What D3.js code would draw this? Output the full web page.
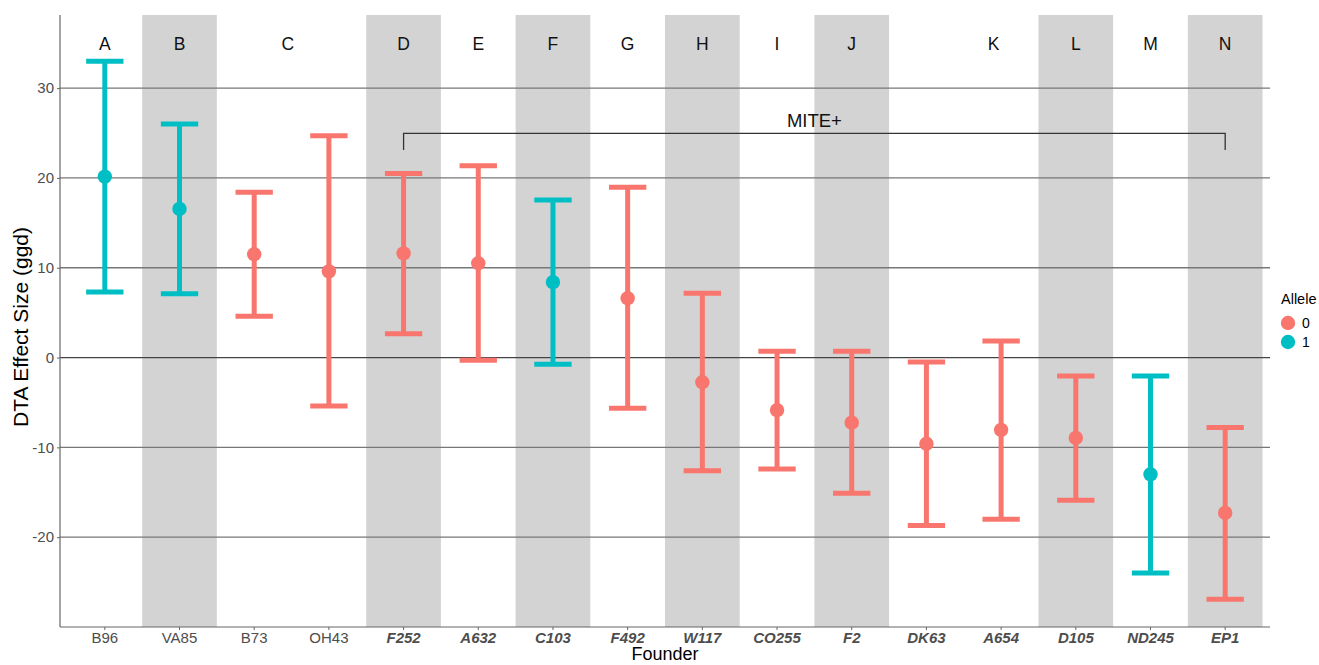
<!DOCTYPE html>
<html>
<head>
<meta charset="utf-8">
<script src="https://cdn.jsdelivr.net/npm/d3@7"></script>
<style>
  html, body { margin: 0; padding: 0; background: #fff; }
  svg { display: block; font-family: "Liberation Sans", Arial, Helvetica, sans-serif; }
</style>
</head>
<body>
<svg id="chart" width="1319" height="665"></svg>
<script>
// ---------------- data ----------------
const founders = ["B96","VA85","B73","OH43","F252","A632","C103","F492","W117","CO255","F2","DK63","A654","D105","ND245","EP1"];
const effect   = [20.15, 16.55, 11.5, 9.6, 11.6, 10.5, 8.4, 6.6, -2.75, -5.85, -7.25, -9.6, -8.05, -8.95, -13.0, -17.3];
const lower    = [7.3, 7.1, 4.6, -5.4, 2.65, -0.3, -0.75, -5.65, -12.6, -12.4, -15.1, -18.7, -18.0, -15.9, -24.0, -26.9];
const upper    = [33.0, 26.0, 18.4, 24.7, 20.5, 21.35, 17.55, 18.95, 7.15, 0.7, 0.7, -0.5, 1.85, -2.05, -2.05, -7.8];
const allele   = ["1","1","0","0","0","0","1","0","0","0","0","0","0","0","1","0"];
const miteFounders = ["F252","A632","C103","F492","W117","CO255","F2","DK63","A654","D105","ND245","EP1"];
const shadedFounders = ["VA85","F252","C103","W117","F2","D105","EP1"];
const groupLetters = ["A","B","C","D","E","F","G","H","I","J","K","L","M","N"];
const letterPos    = [1, 2, 3.45, 5, 6, 7, 8, 9, 10, 11, 12.9, 14, 15, 16];
const yTicks = [-20, -10, 0, 10, 20, 30];
const alleleLevels = ["0","1"];
const alleleColors = ["#F8766D","#00BFC4"];
const bracketLabel = "MITE+";

// ---------------- layout ----------------
const svg = d3.select("#chart");
const pLeft = 60, pRight = 1270, pTop = 15, pBottom = 627;

const x = d3.scaleBand().domain(founders).range([pLeft, pRight]).paddingInner(0).paddingOuter(0.1);
const xPos = d3.scaleLinear().domain([0.4, 16.6]).range([pLeft, pRight]);
const y = d3.scaleLinear().domain([-30.0, 38.14]).range([pBottom, pTop]);
const color = d3.scaleOrdinal().domain(alleleLevels).range(alleleColors);

const data = founders.map((f, i) => ({f, effect: effect[i], lo: lower[i], hi: upper[i], allele: allele[i]}));

// shaded bands
svg.append("g").selectAll("rect").data(shadedFounders).join("rect")
  .attr("x", d => x(d)).attr("width", x.bandwidth())
  .attr("y", pTop).attr("height", pBottom - pTop)
  .attr("fill", "#D3D3D3");

// horizontal gridlines
svg.append("g").selectAll("line").data(yTicks).join("line")
  .attr("x1", pLeft).attr("x2", pRight)
  .attr("y1", d => y(d)).attr("y2", d => y(d))
  .attr("stroke", d => d === 0 ? "#444" : "#777")
  .attr("stroke-width", 1.3);

// axes
const yAxis = svg.append("g").attr("transform", `translate(${pLeft},0)`)
  .call(d3.axisLeft(y).tickValues(yTicks).tickSize(3).tickPadding(3).tickFormat(d => String(d)));
yAxis.select(".domain").attr("stroke", "#666").attr("stroke-width", 1.2).attr("d", `M0,${pTop}V${pBottom}`);
yAxis.selectAll(".tick line").attr("stroke", "#666");
yAxis.selectAll(".tick text").attr("fill", "#4D4D4D").style("font-size", "15px");

const xAxis = svg.append("g").attr("transform", `translate(0,${pBottom})`)
  .call(d3.axisBottom(x).tickSize(3).tickPadding(2));
xAxis.select(".domain").attr("stroke", "#666").attr("stroke-width", 1.2).attr("d", `M${pLeft},0H${pRight}`);
xAxis.selectAll(".tick line").attr("stroke", "#666");
xAxis.selectAll(".tick text").attr("fill", "#4D4D4D").style("font-size", "15px")
  .style("font-style", d => miteFounders.includes(d) ? "italic" : "normal")
  .style("font-weight", d => miteFounders.includes(d) ? "bold" : "normal");

// axis titles
svg.append("text").attr("x", (pLeft + pRight) / 2).attr("y", 660)
  .attr("text-anchor", "middle").style("font-size", "18px").attr("fill", "#000").text("Founder");
svg.append("text").attr("transform", `translate(28,${(pTop + pBottom) / 2 + 6}) rotate(-90)`)
  .attr("text-anchor", "middle").style("font-size", "21px").attr("fill", "#000").text("DTA Effect Size (ggd)");

// error bars
const capHalf = x.bandwidth() * 0.25;
const eb = svg.append("g").selectAll("g").data(data).join("g")
  .attr("stroke", d => color(d.allele)).attr("stroke-width", 5);
eb.append("line")
  .attr("x1", d => x(d.f) + x.bandwidth() / 2).attr("x2", d => x(d.f) + x.bandwidth() / 2)
  .attr("y1", d => y(d.lo)).attr("y2", d => y(d.hi));
eb.append("line")
  .attr("x1", d => x(d.f) + x.bandwidth() / 2 - capHalf).attr("x2", d => x(d.f) + x.bandwidth() / 2 + capHalf)
  .attr("y1", d => y(d.hi)).attr("y2", d => y(d.hi));
eb.append("line")
  .attr("x1", d => x(d.f) + x.bandwidth() / 2 - capHalf).attr("x2", d => x(d.f) + x.bandwidth() / 2 + capHalf)
  .attr("y1", d => y(d.lo)).attr("y2", d => y(d.lo));

// points
svg.append("g").selectAll("circle").data(data).join("circle")
  .attr("cx", d => x(d.f) + x.bandwidth() / 2).attr("cy", d => y(d.effect))
  .attr("r", 7.2).attr("fill", d => color(d.allele));

// group letters
svg.append("g").selectAll("text").data(groupLetters).join("text")
  .attr("x", (d, i) => xPos(letterPos[i])).attr("y", 50)
  .attr("text-anchor", "middle").style("font-size", "17.5px").attr("fill", "#111").text(d => d);

// MITE+ bracket
const bx1 = x(miteFounders[0]) + x.bandwidth() / 2;
const bx2 = x(miteFounders[miteFounders.length - 1]) + x.bandwidth() / 2;
svg.append("path")
  .attr("d", `M${bx1},150V133.3H${bx2}V150`)
  .attr("fill", "none").attr("stroke", "#333").attr("stroke-width", 1.3);
svg.append("text").attr("x", (bx1 + bx2) / 2).attr("y", 127)
  .attr("text-anchor", "middle").style("font-size", "18.5px").attr("fill", "#111").text(bracketLabel);

// legend
const lg = svg.append("g");
lg.append("text").attr("x", 1281).attr("y", 304).style("font-size", "14.5px").attr("fill", "#000").text("Allele");
lg.selectAll("circle").data(alleleLevels).join("circle")
  .attr("cx", 1288).attr("cy", (d, i) => 323 + i * 19).attr("r", 7.2).attr("fill", d => color(d));
lg.selectAll("text.lbl").data(alleleLevels).join("text").attr("class", "lbl")
  .attr("x", 1302).attr("y", (d, i) => 328 + i * 19).style("font-size", "14px").attr("fill", "#000").text(d => d);
</script>
</body>
</html>
